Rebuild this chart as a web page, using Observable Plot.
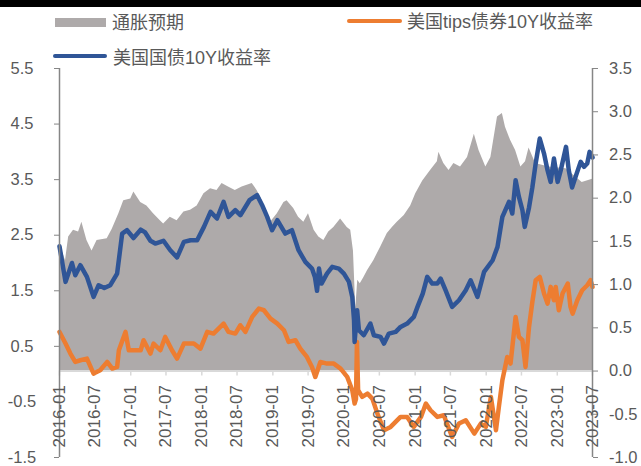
<!DOCTYPE html>
<html><head><meta charset="utf-8">
<script src="https://cdn.jsdelivr.net/npm/d3@7"></script>
<script src="https://cdn.jsdelivr.net/npm/@observablehq/plot@0.6"></script>
<style>
body{margin:0;background:#fff;}
#wrap{position:relative;width:641px;height:466px;overflow:hidden;font-family:"Liberation Sans",Arial,"Noto Sans CJK SC",sans-serif;}
#wrap svg{position:absolute;left:0;top:0;}
.topbar{position:absolute;left:0;top:0;width:641px;height:7px;background:#000;}
.lg{position:absolute;font-size:18px;color:#595959;line-height:18px;white-space:nowrap;}
.sw{position:absolute;}
</style></head><body>
<div id="wrap"></div>
<script>
// ---- Series names ----
const seriesNames = ["通胀预期", "美国tips债券10Y收益率", "美国国债10Y收益率"];

// ---- Axis ticks ----
const leftTicks = [-1.5, -0.5, 0.5, 1.5, 2.5, 3.5, 4.5, 5.5];
const rightTicks = [-1.0, -0.5, 0.0, 0.5, 1.0, 1.5, 2.0, 2.5, 3.0, 3.5];
const xTickLabels = ["2016-01","2016-07","2017-01","2017-07","2018-01","2018-07","2019-01","2019-07",
  "2020-01","2020-07","2021-01","2021-07","2022-01","2022-07","2023-01","2023-07"];

// ---- 通胀预期 (right axis) ----
const beDates = ["2016-01-01","2016-02-01","2016-02-17","2016-03-13","2016-04-08","2016-04-25","2016-05-21","2016-06-16","2016-07-12","2016-09-02","2016-09-28","2016-11-01","2016-11-26",
"2017-01-01","2017-01-17","2017-02-21","2017-03-25","2017-04-28","2017-06-02","2017-06-19","2017-07-23","2017-08-27","2017-10-01","2017-11-04","2017-12-08",
"2018-01-12","2018-02-15","2018-03-20","2018-04-15","2018-05-18","2018-06-22","2018-07-27","2018-09-17","2018-10-12","2018-11-07","2018-12-03","2018-12-20",
"2019-01-24","2019-02-27","2019-03-15","2019-04-18","2019-05-13","2019-06-09","2019-07-03","2019-08-01","2019-08-25","2019-09-20","2019-10-15","2019-11-10","2019-12-15",
"2020-01-18","2020-02-05","2020-02-19","2020-03-02","2020-03-12","2020-03-25","2020-04-12","2020-05-01","2020-06-03","2020-07-07","2020-08-11","2020-09-06","2020-10-01","2020-11-06","2020-12-09",
"2021-01-04","2021-02-09","2021-03-21","2021-04-25","2021-05-03","2021-05-28","2021-06-24","2021-07-19","2021-08-22","2021-09-27","2021-11-01","2021-11-25","2021-12-30",
"2022-01-25","2022-02-28","2022-03-25","2022-04-10","2022-05-06","2022-06-01","2022-06-28","2022-07-22","2022-08-09","2022-09-12","2022-11-18",
"2023-02-15","2023-05-09","2023-07-01"];
const beValues = [1.47,1.28,1.55,1.63,1.61,1.72,1.51,1.39,1.51,1.53,1.64,1.82,1.97,
1.99,2.07,1.95,1.91,1.82,1.74,1.70,1.78,1.74,1.84,1.86,1.91,
2.05,2.11,2.09,2.17,2.13,2.09,2.13,2.17,2.09,1.97,1.82,1.72,
1.82,1.95,1.97,1.88,1.78,1.72,1.82,1.63,1.55,1.51,1.61,1.66,1.76,
1.66,1.63,1.39,0.72,1.05,1.01,1.08,1.16,1.28,1.43,1.59,1.66,1.72,1.80,1.91,
2.05,2.20,2.32,2.42,2.53,2.40,2.32,2.40,2.36,2.47,2.74,2.55,2.36,
2.47,2.94,2.98,2.82,2.67,2.55,2.36,2.42,2.58,2.40,2.36,
2.34,2.18,2.22];

// ---- 美国tips债券10Y收益率 (left axis) ----
const tipsDates = ["2016-01-01","2016-02-01","2016-02-26","2016-03-22","2016-04-17","2016-05-21","2016-06-24","2016-07-28","2016-09-02","2016-09-28","2016-10-23","2016-11-01","2016-12-05","2016-12-22",
"2017-02-21","2017-03-08","2017-04-12","2017-04-28","2017-06-02","2017-06-27","2017-08-01","2017-08-27","2017-10-01","2017-11-21","2017-12-25",
"2018-01-29","2018-03-02","2018-04-23","2018-05-18","2018-06-22","2018-07-18","2018-08-13","2018-09-17","2018-10-21","2018-11-16","2018-12-20",
"2019-01-24","2019-02-27","2019-03-23","2019-04-27","2019-05-22","2019-06-25","2019-07-21","2019-08-07","2019-09-02","2019-10-06","2019-11-10","2019-12-15",
"2020-01-18","2020-02-13","2020-02-25","2020-03-03","2020-03-08","2020-03-14","2020-04-04","2020-05-01","2020-05-26","2020-06-21","2020-07-25","2020-08-28","2020-10-18","2020-11-21","2020-12-25",
"2021-01-31","2021-02-25","2021-03-21","2021-04-25","2021-05-28","2021-07-10","2021-08-14","2021-09-18","2021-11-01","2021-12-04","2021-12-30",
"2022-01-25","2022-02-20","2022-03-07","2022-03-25","2022-04-19","2022-05-06","2022-06-01","2022-06-18","2022-07-06","2022-07-22","2022-08-09","2022-08-26","2022-09-12","2022-10-03","2022-10-25","2022-11-12","2022-11-28","2022-12-15","2022-12-24",
"2023-01-09","2023-01-28","2023-02-24","2023-03-10","2023-03-21","2023-04-14","2023-05-09","2023-06-04","2023-06-21","2023-07-01"];
const tipsValues = [0.76,0.55,0.37,0.22,0.25,0.28,0.01,0.07,0.22,0.10,0.13,0.43,0.76,0.43,
0.43,0.61,0.37,0.55,0.43,0.67,0.43,0.28,0.55,0.55,0.46,
0.76,0.73,0.91,0.76,0.73,0.88,0.76,1.03,1.18,1.15,1.00,
0.91,0.79,0.58,0.61,0.46,0.31,0.13,-0.05,0.22,0.19,0.19,0.10,
-0.05,-0.29,-0.53,-0.45,0.58,-0.29,-0.41,-0.35,-0.44,-0.71,-1.01,-0.95,-0.77,-0.77,-0.95,
-0.77,-0.53,-0.65,-0.77,-0.74,-1.13,-0.89,-0.83,-1.07,-0.89,-0.95,
-0.41,-1.01,-0.59,-0.11,0.31,0.19,1.03,0.67,0.61,0.13,0.85,1.30,1.69,1.75,1.45,1.27,1.57,1.33,1.57,
1.15,1.45,1.63,1.21,1.09,1.33,1.51,1.60,1.69,1.57];

// ---- 美国国债10Y收益率 (left axis) ----
const ustDates = ["2016-01-01","2016-02-01","2016-03-05","2016-03-22","2016-04-17","2016-05-21","2016-06-24","2016-07-20","2016-08-18","2016-09-18","2016-10-23","2016-11-18","2016-12-13",
"2017-01-15","2017-02-21","2017-03-16","2017-04-12","2017-05-07","2017-06-18","2017-07-23","2017-08-27","2017-10-01","2017-11-04","2017-12-08",
"2018-01-12","2018-02-15","2018-03-20","2018-04-23","2018-05-18","2018-06-22","2018-07-18","2018-09-03","2018-10-12","2018-11-07","2018-12-03","2018-12-28",
"2019-01-24","2019-03-06","2019-04-09","2019-05-13","2019-06-17","2019-07-21","2019-08-05","2019-08-16","2019-08-26","2019-09-08","2019-10-06","2019-11-02","2019-12-06",
"2020-01-01","2020-01-27","2020-02-13","2020-02-22","2020-02-25","2020-03-09","2020-03-18","2020-04-12","2020-05-16","2020-06-03","2020-07-07","2020-07-25","2020-08-19","2020-09-23","2020-10-18","2020-11-21","2020-12-25",
"2021-01-13","2021-02-09","2021-03-04","2021-03-30","2021-04-25","2021-05-12","2021-06-06","2021-07-10","2021-08-14","2021-09-18","2021-10-13","2021-11-17","2021-12-21",
"2022-02-03","2022-02-28","2022-03-25","2022-04-28","2022-05-15","2022-06-01","2022-06-18","2022-07-06","2022-07-18","2022-08-09","2022-08-26","2022-09-12","2022-10-03","2022-10-25","2022-11-12","2022-11-28","2022-12-15",
"2023-01-03","2023-01-19","2023-02-15","2023-03-01","2023-03-18","2023-04-05","2023-05-01","2023-05-18","2023-06-04","2023-06-16","2023-07-01"];
const ustValues = [2.30,1.66,2.00,1.78,1.96,1.75,1.39,1.60,1.55,1.60,1.81,2.53,2.59,
2.45,2.60,2.55,2.40,2.35,2.40,2.23,2.10,2.38,2.41,2.41,
2.65,2.92,2.80,3.10,2.83,2.95,2.86,3.13,3.22,3.04,2.83,2.59,
2.77,2.53,2.59,2.23,2.02,1.90,1.75,1.50,1.90,1.63,1.81,1.93,1.90,
1.81,1.66,1.39,0.97,0.58,1.15,0.79,0.70,0.91,0.70,0.67,0.55,0.73,0.76,0.85,0.91,1.03,
1.21,1.45,1.75,1.63,1.63,1.72,1.51,1.21,1.33,1.51,1.69,1.39,1.84,
2.05,2.29,2.83,3.10,2.89,3.49,3.19,2.95,2.65,3.00,3.36,3.79,4.24,3.97,3.67,3.46,3.88,
3.46,3.67,4.09,3.67,3.36,3.55,3.82,3.73,3.79,4.00,3.90];

// ---- helpers ----
const parse = d3.utcParse("%Y-%m-%d");
const toLeft = r => -1.5 + (r + 1) * 7 / 4.5;      // right-axis value -> left-axis units
const fromLeft = l => (l + 1.5) * 4.5 / 7 - 1;
const fmtR = l => { const r = Math.round(fromLeft(l) * 10) / 10; return (r === 0 ? 0 : r).toFixed(1); };

const be = beDates.map((d, i) => ({date: parse(d), v: beValues[i]}));
const tips = tipsDates.map((d, i) => ({date: parse(d), v: tipsValues[i]}));
const ust = ustDates.map((d, i) => ({date: parse(d), v: ustValues[i]}));
const xTicks = xTickLabels.map(s => parse(s + "-01"));
const xStart = xTicks[0], xEnd = xTicks[xTicks.length - 1];

const colors = {be: "#AEAAAA", tips: "#ED7D31", ust: "#2F5597"};
const axisGray = "#868686", textGray = "#595959";
const font = '"Liberation Sans", Arial, "Noto Sans CJK SC", sans-serif';

const chart = Plot.plot({
  width: 641, height: 466,
  marginTop: 68, marginBottom: 9, marginLeft: 59, marginRight: 49,
  style: {fontFamily: font, background: "white", overflow: "visible"},
  x: {type: "utc", domain: [xStart, xEnd], axis: null},
  y: {domain: [-1.5, 5.5], label: null},
  marks: [
    Plot.areaY(be, {x: "date", y1: toLeft(0), y2: d => toLeft(d.v), fill: colors.be}),
    Plot.ruleY([toLeft(0)], {stroke: "#D9D9D9", strokeWidth: 2}),
    Plot.ruleX(xTicks, {x: d => d, y1: toLeft(0), y2: toLeft(0) - 0.09, stroke: "#D9D9D9", strokeWidth: 1.5}),
    Plot.lineY(tips, {x: "date", y: "v", stroke: colors.tips, strokeWidth: 4.5, strokeLinejoin: "round"}),
    Plot.lineY(ust, {x: "date", y: "v", stroke: colors.ust, strokeWidth: 4.5, strokeLinejoin: "round"}),
    Plot.ruleX([xStart], {stroke: axisGray, strokeWidth: 1.5}),
    Plot.ruleX([xEnd], {stroke: axisGray, strokeWidth: 1.5}),
    Plot.axisY({anchor: "left", ticks: leftTicks, tickSize: 5, tickFormat: () => "", color: axisGray, label: null}),
    Plot.axisY({anchor: "left", ticks: leftTicks, tickSize: 0, tickPadding: 37.5, textAnchor: "middle",
      tickFormat: d => d.toFixed(1), color: textGray, fontSize: 16.5, label: null}),
    Plot.axisY({anchor: "right", ticks: rightTicks.map(toLeft), tickSize: 5, tickFormat: () => "", color: axisGray, label: null}),
    Plot.axisY({anchor: "right", ticks: rightTicks.map(toLeft), tickSize: 0, tickPadding: 16.5, textAnchor: "start",
      tickFormat: fmtR, color: textGray, fontSize: 16.5, label: null}),
    Plot.text(xTickLabels, {x: d => parse(d + "-01"), y: toLeft(0), text: d => d, rotate: -90,
      textAnchor: "end", lineAnchor: "middle", dy: 14, fontSize: 17, fill: textGray})
  ]
});

const wrap = document.getElementById("wrap");
wrap.appendChild(chart);

const addDiv = (cls, css, text) => {
  const el = document.createElement("div");
  el.className = cls;
  el.style.cssText = css;
  if (text) el.textContent = text;
  wrap.appendChild(el);
};
addDiv("topbar", "");
// legend row 1
addDiv("sw", `left:55px;top:18px;width:51px;height:9px;background:${colors.be};`);
addDiv("lg", "left:112px;top:14px;", seriesNames[0]);
addDiv("sw", `left:347px;top:19px;width:55px;height:4px;border-radius:2px;background:${colors.tips};`);
addDiv("lg", "left:407px;top:13px;", seriesNames[1]);
// legend row 2
addDiv("sw", `left:53px;top:54px;width:54px;height:4px;border-radius:2px;background:${colors.ust};`);
addDiv("lg", "left:113px;top:49px;", seriesNames[2]);
</script>
</body></html>
